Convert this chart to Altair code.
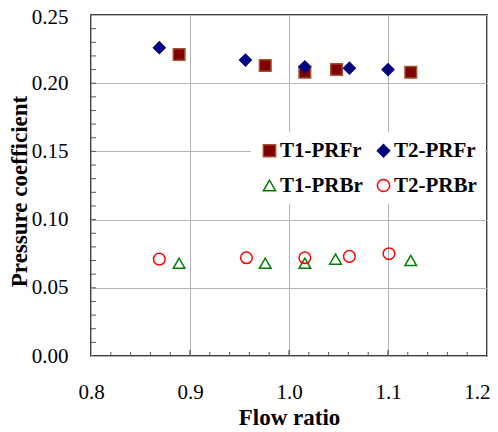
import altair as alt
import pandas as pd

series_names = ["T1-PRFr", "T2-PRFr", "T1-PRBr", "T2-PRBr"]
t1_prfr_x = [0.889, 0.976, 1.016, 1.048, 1.123]
t1_prfr_y = [0.221, 0.213, 0.208, 0.210, 0.208]
t2_prfr_x = [0.869, 0.956, 1.016, 1.061, 1.100]
t2_prfr_y = [0.226, 0.217, 0.212, 0.211, 0.210]
t1_prbr_x = [0.889, 0.976, 1.016, 1.047, 1.123]
t1_prbr_y = [0.068, 0.068, 0.068, 0.071, 0.070]
t2_prbr_x = [0.869, 0.957, 1.016, 1.061, 1.101]
t2_prbr_y = [0.071, 0.072, 0.072, 0.073, 0.075]

x_major = [0.8, 0.9, 1.0, 1.1, 1.2]
y_major = [0.0, 0.05, 0.10, 0.15, 0.20, 0.25]
x_minor = [0.82, 0.84, 0.86, 0.88, 0.92, 0.94, 0.96, 0.98, 1.02, 1.04, 1.06, 1.08,
           1.12, 1.14, 1.16, 1.18]
x_major_inner = [0.9, 1.0, 1.1]
y_minor = [0.01, 0.02, 0.03, 0.04, 0.05, 0.06, 0.07, 0.08, 0.09, 0.10, 0.11, 0.12,
           0.13, 0.14, 0.15, 0.16, 0.17, 0.18, 0.19, 0.20, 0.21, 0.22, 0.23, 0.24]

shapes = ["square", "diamond", "triangle-up", "circle"]
strokes = ["#A0522D", "#000080", "#008000", "#FF0000"]
fills = ["#800000", "#000080", "transparent", "transparent"]

rows = []
for name, xs, ys in [
    ("T1-PRFr", t1_prfr_x, t1_prfr_y),
    ("T2-PRFr", t2_prfr_x, t2_prfr_y),
    ("T1-PRBr", t1_prbr_x, t1_prbr_y),
    ("T2-PRBr", t2_prbr_x, t2_prbr_y),
]:
    for xv, yv in zip(xs, ys):
        rows.append({"series": name, "x": xv, "y": yv})
df = pd.DataFrame(rows)

W, H = 396, 341
FONT = "Liberation Serif"

xscale = alt.Scale(domain=[0.8, 1.2], nice=False, zero=False)
yscale = alt.Scale(domain=[0.0, 0.25], nice=False, zero=False)

xaxis = alt.Axis(
    values=x_major, format=".1f", title="Flow ratio", titleY=68,
    titleBaseline="alphabetic", labelPadding=25, labelFlush=False,
    labelAlign={"condition": {"test": "datum.value >= 1.19", "value": "right"}, "value": "center"},
    labelOffset={"condition": {"test": "datum.value >= 1.19", "value": 3}, "value": 0},
)
yaxis = alt.Axis(
    values=y_major, format=".2f", title="Pressure coefficient",
    titleX=-65, titleY=176, titleBaseline="alphabetic", labelPadding=23,
    labelFlush=False,
    labelOffset={"condition": {"test": "datum.value >= 0.24", "value": 2}, "value": 0},
)

legend = alt.Legend(
    orient="none", legendX=160, legendY=117, columns=2, direction="horizontal",
    title=None, fillColor="white", padding=8, labelFont=FONT, labelFontSize=21,
    labelFontWeight="bold", labelColor="black", symbolSize=150,
    symbolStrokeWidth=1.5, columnPadding=10, rowPadding=13, labelOffset=0,
)

points = alt.Chart(df).mark_point(size=135, strokeWidth=1.5, opacity=1).encode(
    x=alt.X("x:Q", scale=xscale, axis=xaxis),
    y=alt.Y("y:Q", scale=yscale, axis=yaxis),
    shape=alt.Shape("series:N", scale=alt.Scale(domain=series_names, range=shapes), legend=legend),
    stroke=alt.Stroke("series:N", scale=alt.Scale(domain=series_names, range=strokes), legend=legend),
    fill=alt.Fill("series:N", scale=alt.Scale(domain=series_names, range=fills), legend=legend),
)

xt_minor = alt.Chart(pd.DataFrame({"x": x_minor})).mark_rule(color="#555555", strokeWidth=1).encode(
    x=alt.X("x:Q", scale=xscale, axis=xaxis), y=alt.value(H), y2=alt.value(H - 4))
xt_major = alt.Chart(pd.DataFrame({"x": x_major_inner})).mark_rule(color="#333333", strokeWidth=1).encode(
    x=alt.X("x:Q", scale=xscale, axis=xaxis), y=alt.value(H), y2=alt.value(H - 6))
yt = alt.Chart(pd.DataFrame({"y": y_minor})).mark_rule(color="#555555", strokeWidth=1).encode(
    y=alt.Y("y:Q", scale=yscale, axis=yaxis), x=alt.value(0), x2=alt.value(5))

chart = alt.layer(points, xt_minor, xt_major, yt).properties(
    width=W, height=H, autosize="none",
    padding={"left": 83, "top": 7, "right": 3, "bottom": 76},
).configure_view(
    stroke="black", strokeWidth=1.5
).configure_axis(
    domain=False, ticks=False, tickSize=0, grid=True, gridColor="#B4B4B4",
    gridWidth=1, labelFont=FONT, labelFontSize=21, labelColor="black",
    titleFont=FONT, titleFontSize=23, titleFontWeight="bold", titleColor="black",
)

chart.save("out.html", embed_options={"renderer": "svg", "actions": False})
